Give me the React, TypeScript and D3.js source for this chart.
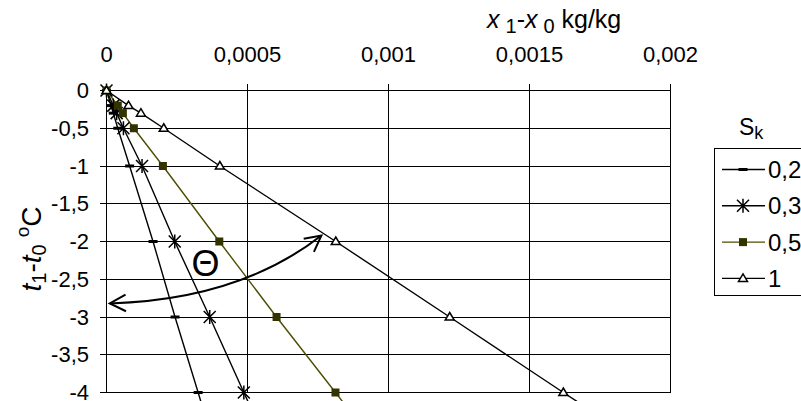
import React, { useEffect, useRef } from 'react'
import * as d3 from 'd3'

const W = 801
const H = 401

// t1 - t0 in °C, shared by every series
const dT = [0, -0.2, -0.3, -0.5, -1, -2, -3, -4, -5]

// x1 - x0 in kg/kg, one list per S_k
const seriesNames = ['0,2', '0,3', '0,5', '1']
const dX02 = [0, 0.000016, 0.000024, 0.00004, 0.000082, 0.000165, 0.000243, 0.000325, 0.000405]
const dX03 = [0, 0.000024, 0.000036, 0.00006, 0.000126, 0.000242, 0.000366, 0.000487, 0.00061]
const dX05 = [0, 0.00004, 0.000058, 0.000097, 0.0002, 0.0004, 0.000603, 0.000812, 0.00102]
const dX1 = [0, 0.000078, 0.000122, 0.000203, 0.000402, 0.000813, 0.001217, 0.00162, 0.00203]

const xTicks = [0, 0.0005, 0.001, 0.0015, 0.002]
const xTickLabels = ['0', '0,0005', '0,001', '0,0015', '0,002']
const yTicks = [0, -0.5, -1, -1.5, -2, -2.5, -3, -3.5, -4]
const yTickLabels = ['0', '-0,5', '-1', '-1,5', '-2', '-2,5', '-3', '-3,5', '-4']

// the curved Θ arrow: start, control, end (data units)
const arrowX = [0.0000117, 0.000471, 0.000762]
const arrowY = [-2.82, -2.77, -1.92]

const FONT = '"Liberation Sans", Arial, sans-serif'

const series = [
    { name: seriesNames[0], xs: dX02, marker: 'dash', line: '#000', fill: '#000' },
    { name: seriesNames[1], xs: dX03, marker: 'star', line: '#000', fill: '#000' },
    { name: seriesNames[2], xs: dX05, marker: 'square', line: '#4d4d00', fill: '#333300' },
    { name: seriesNames[3], xs: dX1, marker: 'tri', line: '#000', fill: '#fff' },
]

function drawMarker(g: any, type: string, x: number, y: number, color: string) {
    if (type === 'dash') {
        g.append('rect').attr('x', x - 4.5).attr('y', y - 1.5).attr('width', 9).attr('height', 3).attr('fill', color)
    } else if (type === 'star') {
        const s = 6
        g.append('path')
            .attr('d', `M${x - s},${y - s}L${x + s},${y + s}M${x - s},${y + s}L${x + s},${y - s}M${x},${y - s - 1}L${x},${y + s + 1}`)
            .attr('stroke', color).attr('stroke-width', 1.5).attr('fill', 'none')
    } else if (type === 'square') {
        g.append('rect').attr('x', x - 4).attr('y', y - 4).attr('width', 8).attr('height', 8).attr('fill', color)
    } else {
        g.append('path')
            .attr('d', `M${x},${y - 4.5}L${x + 4.5},${y + 3}L${x - 4.5},${y + 3}Z`)
            .attr('fill', '#fff').attr('stroke', '#000').attr('stroke-width', 1.5)
    }
}

export default function App() {
    const ref = useRef<SVGSVGElement>(null)

    useEffect(() => {
        const svg = d3.select(ref.current)
        svg.selectAll('*').remove()

        const xScale = d3.scaleLinear().domain([0, 0.002]).range([106.5, 670.5])
        const yScale = d3.scaleLinear().domain([-4, 0]).range([392.5, 90.5])
        const x0 = xScale(0), x1 = xScale(0.002)
        const yTop = yScale(0), yBot = yScale(-4)

        const grid = svg.append('g').attr('shape-rendering', 'crispEdges')
        // horizontal grid + left ticks
        yTicks.forEach(t => {
            grid.append('line').attr('x1', x0 - 7).attr('x2', x1).attr('y1', yScale(t)).attr('y2', yScale(t))
                .attr('stroke', '#000').attr('stroke-width', 1)
        })
        // vertical grid + top ticks
        xTicks.forEach(t => {
            grid.append('line').attr('x1', xScale(t)).attr('x2', xScale(t)).attr('y1', yTop - 7).attr('y2', yBot)
                .attr('stroke', '#000').attr('stroke-width', 1)
        })
        grid.append('rect').attr('x', x0).attr('y', yTop).attr('width', x1 - x0).attr('height', yBot - yTop)
            .attr('fill', 'none').attr('stroke', '#000').attr('stroke-width', 1)

        // tick labels
        xTicks.forEach((t, i) => {
            svg.append('text').attr('x', xScale(t)).attr('y', 62).attr('text-anchor', 'middle')
                .attr('font-family', FONT).attr('font-size', 22).text(xTickLabels[i])
        })
        yTicks.forEach((t, i) => {
            svg.append('text').attr('x', 89).attr('y', yScale(t) + 7.5).attr('text-anchor', 'end')
                .attr('font-family', FONT).attr('font-size', 22).text(yTickLabels[i])
        })

        // series lines
        const line = d3.line<number>().x(d => xScale(d)).y((d, i) => yScale(dT[i]))
        series.forEach(s => {
            svg.append('path').attr('d', line(s.xs)).attr('fill', 'none')
                .attr('stroke', s.line).attr('stroke-width', 1.4)
        })
        // markers
        series.forEach(s => {
            const g = svg.append('g')
            s.xs.forEach((v, i) => drawMarker(g, s.marker, xScale(v), yScale(dT[i]), s.fill))
        })

        // Θ arrow
        const p0 = [xScale(arrowX[0]), yScale(arrowY[0])]
        const pc = [xScale(arrowX[1]), yScale(arrowY[1])]
        const p2 = [xScale(arrowX[2]), yScale(arrowY[2])]
        const ap = d3.path()
        ap.moveTo(p0[0], p0[1])
        ap.quadraticCurveTo(pc[0], pc[1], p2[0], p2[1])
        svg.append('path').attr('d', ap.toString()).attr('fill', 'none').attr('stroke', '#000').attr('stroke-width', 2)
        const head = (tip: number[], from: number[]) => {
            const a = Math.atan2(from[1] - tip[1], from[0] - tip[0])
            const len = 18, spread = 0.48
            const h = d3.path()
            h.moveTo(tip[0] + len * Math.cos(a + spread), tip[1] + len * Math.sin(a + spread))
            h.lineTo(tip[0], tip[1])
            h.lineTo(tip[0] + len * Math.cos(a - spread), tip[1] + len * Math.sin(a - spread))
            svg.append('path').attr('d', h.toString()).attr('fill', 'none').attr('stroke', '#000').attr('stroke-width', 2)
        }
        head(p0, pc)
        head(p2, pc)
        svg.append('text').attr('x', 205.5).attr('y', 276).attr('text-anchor', 'middle')
            .attr('font-family', FONT).attr('font-size', 36).text('Θ')

        // axis titles
        const xt = svg.append('text').attr('x', 487).attr('y', 28).attr('font-family', FONT).attr('font-size', 25)
        xt.append('tspan').attr('font-style', 'italic').text('x')
        xt.append('tspan').attr('dx', 6).attr('dy', 5).attr('font-size', 20).text('1')
        xt.append('tspan').attr('dy', -5).text('-')
        xt.append('tspan').attr('font-style', 'italic').text('x')
        xt.append('tspan').attr('dx', 6).attr('dy', 5).attr('font-size', 20).text('0')
        xt.append('tspan').attr('dy', -5).text(' kg/kg')

        const yt = svg.append('text').attr('transform', 'translate(41,249) rotate(-90)')
            .attr('text-anchor', 'middle').attr('font-family', FONT).attr('font-size', 28)
        yt.append('tspan').attr('font-style', 'italic').text('t')
        yt.append('tspan').attr('dy', 5).attr('font-size', 20).text('1')
        yt.append('tspan').attr('dy', -5).text('-')
        yt.append('tspan').attr('font-style', 'italic').text('t')
        yt.append('tspan').attr('dy', 5).attr('font-size', 20).text('0')
        yt.append('tspan').attr('dx', 7).attr('dy', -17).attr('font-size', 19).text('o')
        yt.append('tspan').attr('dy', 12).text('C')

        // legend
        const lx = 714.5, ly = 148.5
        const st = svg.append('text').attr('x', 739).attr('y', 135).attr('font-family', FONT).attr('font-size', 23)
        st.append('tspan').text('S')
        st.append('tspan').attr('dy', 4).attr('font-size', 18).text('k')
        svg.append('rect').attr('x', lx).attr('y', ly).attr('width', 120).attr('height', 147)
            .attr('fill', '#fff').attr('stroke', '#000').attr('stroke-width', 1).attr('shape-rendering', 'crispEdges')
        series.forEach((s, i) => {
            const ry = 169.5 + i * 36.3
            svg.append('line').attr('x1', 722).attr('x2', 765).attr('y1', ry).attr('y2', ry)
                .attr('stroke', s.line).attr('stroke-width', 1.4)
            drawMarker(svg.append('g'), s.marker, 743, ry, s.fill)
            svg.append('text').attr('x', 768).attr('y', ry + 8.5).attr('font-family', FONT).attr('font-size', 24).text(s.name)
        })
    }, [])

    return (
        <svg ref={ref} width={W} height={H}
            style={{ position: 'absolute', left: 0, top: 0, background: '#fff' }} />
    )
}
